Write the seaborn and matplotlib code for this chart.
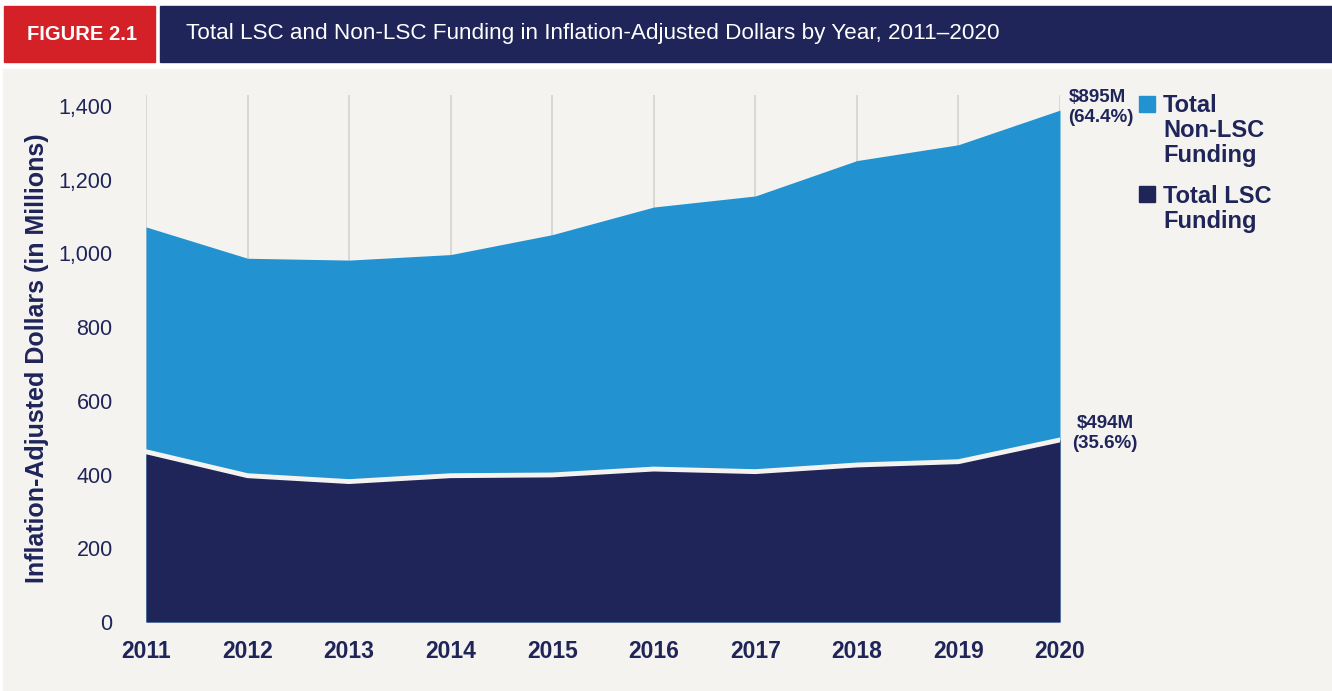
import numpy as np
import pandas as pd
import matplotlib
matplotlib.use("Agg")
import matplotlib.pyplot as plt
import seaborn as sns
from matplotlib.patches import Rectangle
from matplotlib.ticker import FuncFormatter

# data (millions of inflation-adjusted dollars)
years = [2011, 2012, 2013, 2014, 2015, 2016, 2017, 2018, 2019, 2020]
lsc = [462, 397, 381, 397, 399, 415, 408, 426, 435, 494]
non_lsc = [610, 590, 601, 600, 652, 711, 748, 826, 860, 895]
yticks = [0, 200, 400, 600, 800, 1000, 1200, 1400]
legend_labels = ["Total\nNon-LSC\nFunding", "Total LSC\nFunding"]

navy = "#1f2459"
blue = "#2292d0"
red = "#d42027"
beige = "#f4f3ef"

df = pd.DataFrame({"year": years, "lsc": lsc, "non_lsc": non_lsc})
df["total"] = df["lsc"] + df["non_lsc"]

sns.set_theme(style="white")
plt.rcParams["font.family"] = ["Liberation Sans", "DejaVu Sans"]

fig = plt.figure(figsize=(13.32, 6.91), dpi=100)
fig.patch.set_facecolor("white")
W, H = 1332, 691


def box(x0, y0, x1, y1, color, z=-5):
    fig.patches.append(Rectangle((x0 / W, 1 - y1 / H), (x1 - x0) / W, (y1 - y0) / H,
                                 transform=fig.transFigure, color=color, zorder=z))


# header + panel
box(4, 6, 155, 62, red)
box(160, 6, 1332, 62, navy)
box(3, 69, 1332, 690, beige)
fig.text(82 / W, 1 - 34 / H, "FIGURE 2.1", color="white", fontsize=14.5, fontweight="bold",
         ha="center", va="center")
fig.text(186 / W, 1 - 34 / H,
         "Total LSC and Non-LSC Funding in Inflation-Adjusted Dollars by Year, 2011\u20132020",
         color="white", fontsize=16.2, ha="left", va="center")

ax = fig.add_axes([146 / W, 1 - 622 / H, (1060 - 146) / W, (622 - 95) / H])
ax.set_facecolor("none")
ax.set_zorder(2)

ax.fill_between(df["year"], 0, df["total"], color=blue, linewidth=0, zorder=2)
ax.fill_between(df["year"], 0, df["lsc"], color=navy, linewidth=0, zorder=3)
sns.lineplot(data=df, x="year", y="lsc", color=beige, linewidth=3.5, ax=ax, zorder=4)

for yr in years:
    ax.axvline(yr, color="#d3d3d1", linewidth=1.2, zorder=1)

ax.set_xlim(years[0], years[-1])
ax.set_ylim(0, 1430)
ax.set_xticks(years)
ax.set_xticklabels([str(y) for y in years], fontsize=16.5, fontweight="bold", color=navy)
ax.set_yticks(yticks)
ax.yaxis.set_major_formatter(FuncFormatter(lambda v, p: f"{int(v):,}"))
ax.tick_params(axis="y", length=0, pad=24, labelsize=15.5, labelcolor=navy)
ax.tick_params(axis="x", length=0, pad=13)
for s in ax.spines.values():
    s.set_visible(False)

ax.set_xlabel("")
ax.set_ylabel("Inflation-Adjusted Dollars (in Millions)", fontsize=18, fontweight="bold", color=navy)
ax.yaxis.set_label_coords(-0.106, 0.5)

last = df.iloc[-1]
ax.annotate(f"${int(last['non_lsc'])}M\n({last['non_lsc'] / last['total'] * 100:.1f}%)",
            xy=(last["year"], last["total"]), xytext=(6, 15), textcoords="offset points",
            ha="left", va="top", fontsize=13.5, fontweight="bold", color=navy,
            linespacing=1.2, annotation_clip=False)
ax.annotate(f"${int(last['lsc'])}M\n({last['lsc'] / last['total'] * 100:.1f}%)",
            xy=(last["year"], last["lsc"]), xytext=(9, 18), textcoords="offset points",
            ha="left", va="top", multialignment="center", fontsize=13.5, fontweight="bold",
            color=navy, linespacing=1.2, annotation_clip=False)

# legend
for (label, color, ytop, sq) in [(legend_labels[0], blue, 94, 96), (legend_labels[1], navy, 185, 186)]:
    box(1139, sq, 1155, sq + 16, color, z=1)
    fig.text(1163 / W, 1 - ytop / H, label, fontsize=17, fontweight="bold", color=navy,
             ha="left", va="top", linespacing=1.12)

fig.savefig("out.png", dpi=100, facecolor=fig.get_facecolor())
